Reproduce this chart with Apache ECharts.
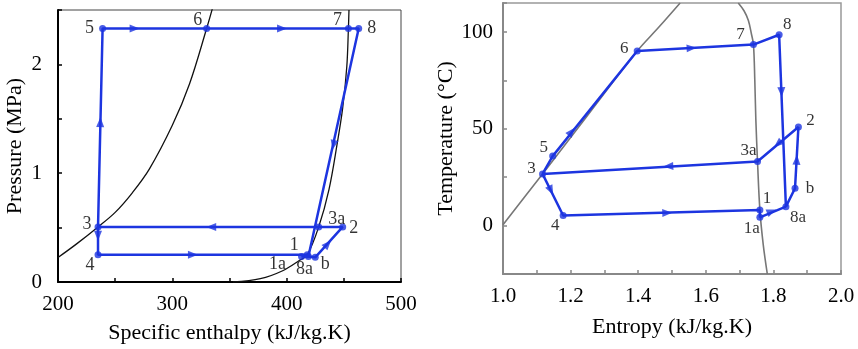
<!DOCTYPE html>
<html>
<head>
<meta charset="utf-8">
<script src="https://cdn.jsdelivr.net/npm/echarts@6/dist/echarts.min.js"></script>
<style>
html, body { margin: 0; padding: 0; background: #fff; }
#chart { width: 858px; height: 349px; }
</style>
</head>
<body>
<div id="chart"></div>
<script>
// ---- P-h diagram (left) ----
var phNames = ['5', '6', '7', '8', '3', '4', '3a', '2', '1', '1a', '8a', 'b'];
var phH = [239, 330, 454, 463, 235, 235, 428, 449, 418, 413, 419, 425];
var phP = [2.33, 2.33, 2.33, 2.33, 0.506, 0.25, 0.506, 0.506, 0.25, 0.234, 0.234, 0.227];
// saturation curve
var phLiqH = [200, 216, 235, 250, 265, 280, 300, 315, 330, 336];
var phLiqP = [0.225, 0.348, 0.506, 0.64, 0.82, 1.04, 1.44, 1.82, 2.33, 2.55];
var phVapH = [353, 377, 397, 411, 418, 428, 437, 444, 449, 452.6, 454, 454.5];
var phVapP = [0, 0.03, 0.106, 0.197, 0.25, 0.506, 0.85, 1.26, 1.6, 1.98, 2.33, 2.5];
// direction arrows
var phArrowH = [237, 267, 396, 441, 436, 334, 235, 318];
var phArrowP = [1.47, 2.33, 2.33, 1.26, 0.35, 0.506, 0.425, 0.25];
var phArrowSeg = [['3', '5'], ['5', '6'], ['6', '7'], ['8', '8a'], ['b', '2'], ['3a', '3'], ['3', '4'], ['4', '1']];

// ---- T-s diagram (right) ----
var tsNames = ['5', '6', '7', '8', '3', '4', '3a', '2', '1', '1a', '8a', 'b'];
var tsS = [1.147, 1.397, 1.741, 1.817, 1.117, 1.178, 1.753, 1.874, 1.760, 1.760, 1.837, 1.864];
var tsT = [35.9, 90.2, 93.5, 98.6, 26.7, 5.2, 33.1, 50.9, 8.1, 4.3, 9.8, 19.3];
var tsLiqS = [1.0, 1.117, 1.25, 1.397, 1.46, 1.524];
var tsLiqT = [0.5, 26.7, 56.9, 90.2, 102.3, 115];
var tsVapS = [1.696, 1.713, 1.726, 1.735, 1.741, 1.745, 1.748, 1.753, 1.760, 1.770, 1.782];
var tsVapT = [115, 111, 106, 99, 93.5, 75, 55, 33.1, 8.1, -10, -25];
var tsArrowS = [1.203, 1.558, 1.824, 1.813, 1.489, 1.869, 1.795, 1.486, 1.142];
var tsArrowT = [48.6, 91.7, 69, 42.2, 30.7, 34, 7.4, 6.6, 18.1];
var tsArrowSeg = [['5', '6'], ['6', '7'], ['8', '8a'], ['2', '3a'], ['3a', '3'], ['b', '2'], ['1a', '8a'], ['4', '1'], ['3', '4']];

// process paths (same for both diagrams)
var cyclePaths = [
  ['3', '5', '6', '7', '8', '8a'],
  ['8a', 'b', '2', '3a', '3', '4', '1', '1a', '8a']
];

// label offsets (px) for state numbers
var phLabelOffset = {'5': [-13, 0], '6': [-9, -8], '7': [-11, -8], '8': [13, 0], '3': [-11, -3], '4': [-8, 10],
  '3a': [18, -8], '2': [11, 1], '1': [-13, -10], '1a': [-24, 8], '8a': [-4, 13], 'b': [10, 7]};
var tsLabelOffset = {'6': [-13, -2], '7': [-13, -10], '8': [8, -10], '2': [12, -7], '3a': [-9, -11], 'b': [15, 0],
  '1': [7, -11], '8a': [12, 11], '1a': [-8, 11], '5': [-9, -9], '3': [-11, -5], '4': [-8, 10]};

var BLUE = '#1d35e0';
var FONT = 'Liberation Serif';

function zip(xs, ys) {
  return xs.map(function (x, i) { return [x, ys[i]]; });
}
function pathData(names, xs, ys, seq) {
  return seq.map(function (n) { var i = names.indexOf(n); return [xs[i], ys[i]]; });
}

var myChart = echarts.init(document.getElementById('chart'));

function axisX(grid, min, max, interval, fmt, name, gap, col) {
  return {
    gridIndex: grid, type: 'value', min: min, max: max, interval: interval,
    axisLine: { show: true, onZero: false, lineStyle: { color: col, width: 2 } },
    axisTick: { show: true, inside: true, length: 4, lineStyle: { color: col, width: 1.5 } },
    axisLabel: { formatter: fmt, margin: 12, fontFamily: FONT, fontSize: 21, color: '#000' },
    splitLine: { show: false },
    name: name, nameLocation: 'middle', nameGap: gap,
    nameTextStyle: { fontFamily: FONT, fontSize: 22, color: '#000' }
  };
}
function axisY(grid, min, max, interval, fmt, name, gap, margin, col) {
  return {
    gridIndex: grid, type: 'value', min: min, max: max, interval: interval,
    axisLine: { show: true, onZero: false, lineStyle: { color: col, width: 2 } },
    axisTick: { show: true, inside: true, length: 4, lineStyle: { color: col, width: 1.5 } },
    axisLabel: { formatter: fmt, margin: margin, fontFamily: FONT, fontSize: 21, color: '#000',
      showMinLabel: true, showMaxLabel: true },
    splitLine: { show: false },
    name: name, nameLocation: 'middle', nameGap: gap,
    nameTextStyle: { fontFamily: FONT, fontSize: 22, color: '#000' }
  };
}

function curve(grid, data, color, width) {
  return {
    type: 'line', xAxisIndex: grid, yAxisIndex: grid, data: data, smooth: 0.35,
    showSymbol: false, silent: true, animation: false,
    lineStyle: { color: color, width: width }, z: 2
  };
}
function path(grid, data) {
  return {
    type: 'line', xAxisIndex: grid, yAxisIndex: grid, data: data, smooth: false,
    showSymbol: false, animation: false,
    lineStyle: { color: BLUE, width: 2.5 }, z: 3
  };
}
function points(grid, names, xs, ys, offsets, fs) {
  return {
    type: 'scatter', xAxisIndex: grid, yAxisIndex: grid, animation: false,
    symbolSize: 7, itemStyle: { color: BLUE }, z: 4,
    data: names.map(function (n, i) {
      return {
        name: n, value: [xs[i], ys[i]],
        label: { show: true, position: 'inside', offset: offsets[n], formatter: n,
          fontFamily: FONT, fontSize: fs, color: '#000' }
      };
    })
  };
}

var option = {
  animation: false,
  grid: [
    { left: 58, top: 10, width: 343, height: 275, show: true, borderColor: '#444', borderWidth: 1 },
    { left: 503, top: 3, width: 338, height: 271, show: true, borderColor: '#999', borderWidth: 1.5 }
  ],
  xAxis: [
    axisX(0, 200, 500, 50, function (v) { return v % 100 === 0 ? v : ''; },
      'Specific enthalpy (kJ/kg.K)', 40, '#000'),
    axisX(1, 1.0, 2.0, 0.1, function (v) { return Math.round(v * 10) % 2 === 0 ? v.toFixed(1) : ''; },
      'Entropy (kJ/kg.K)', 42, '#888')
  ],
  yAxis: [
    axisY(0, 0, 2.5, 0.5, function (v) { return Math.abs(v - Math.round(v)) < 1e-6 ? Math.round(v) : ''; },
      'Pressure (MPa)', 32, 16, '#000'),
    axisY(1, -25, 115, 25, function (v) { return v % 50 === 0 ? v : ''; },
      'Temperature (°C)', 36, 10, '#888')
  ],
  series: [
    curve(0, zip(phLiqH, phLiqP), '#111', 1.3),
    curve(0, zip(phVapH, phVapP), '#111', 1.3),
    path(0, pathData(phNames, phH, phP, cyclePaths[0])),
    path(0, pathData(phNames, phH, phP, cyclePaths[1])),
    points(0, phNames, phH, phP, phLabelOffset, 18),
    curve(1, zip(tsLiqS, tsLiqT), '#777', 1.6),
    curve(1, zip(tsVapS, tsVapT), '#777', 1.6),
    path(1, pathData(tsNames, tsS, tsT, cyclePaths[0])),
    path(1, pathData(tsNames, tsS, tsT, cyclePaths[1])),
    points(1, tsNames, tsS, tsT, tsLabelOffset, 17)
  ]
};
myChart.setOption(option);

// arrows: rotate each triangle along its segment direction (in pixels)
function arrows(grid, names, xs, ys, ax, ay, segs) {
  var data = ax.map(function (x, i) {
    var a = names.indexOf(segs[i][0]), b = names.indexOf(segs[i][1]);
    var p0 = myChart.convertToPixel({ gridIndex: grid }, [xs[a], ys[a]]);
    var p1 = myChart.convertToPixel({ gridIndex: grid }, [xs[b], ys[b]]);
    var ang = Math.atan2(-(p1[1] - p0[1]), p1[0] - p0[0]) * 180 / Math.PI - 90;
    return { value: [x, ay[i]], symbolRotate: ang };
  });
  return {
    type: 'scatter', xAxisIndex: grid, yAxisIndex: grid, animation: false,
    symbol: 'triangle', symbolSize: [8, 10], itemStyle: { color: BLUE }, z: 5, data: data
  };
}
option.series.push(arrows(0, phNames, phH, phP, phArrowH, phArrowP, phArrowSeg));
option.series.push(arrows(1, tsNames, tsS, tsT, tsArrowS, tsArrowT, tsArrowSeg));
myChart.setOption(option);
window.onresize = myChart.resize;
</script>
</body>
</html>
